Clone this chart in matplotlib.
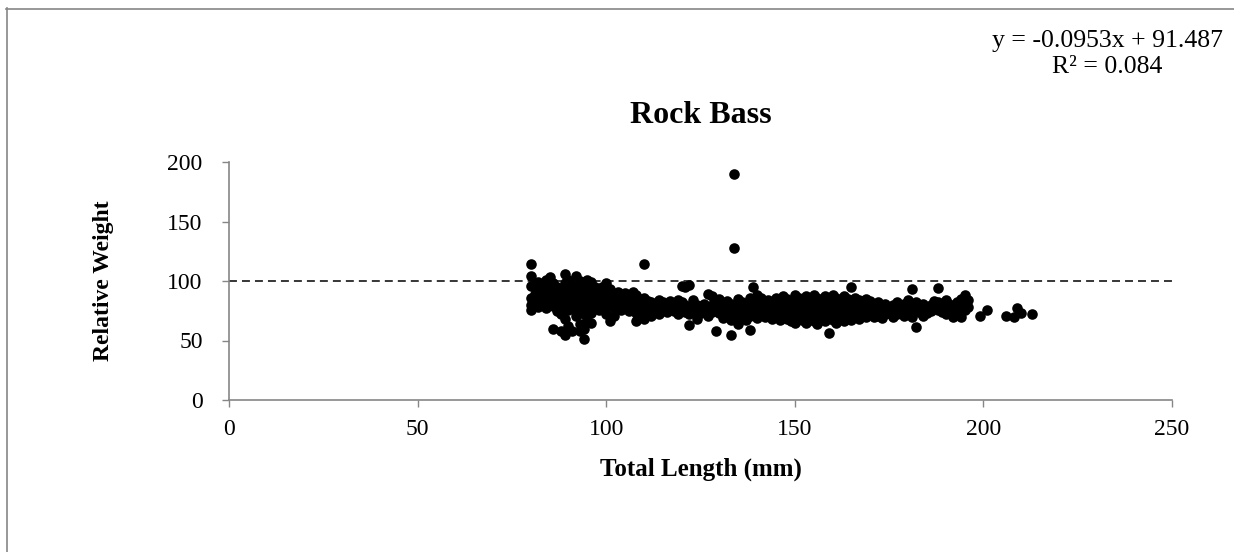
import matplotlib
matplotlib.use("Agg")
import matplotlib.pyplot as plt
from matplotlib.lines import Line2D

plt.rcParams['font.family'] = ['Liberation Serif', 'DejaVu Serif']

# ---- data ----
length_groups = [80, 81, 82, 83, 84, 85, 86, 87, 88, 89, 90, 91, 92, 93, 94, 95, 96, 97, 98, 99,
                 100, 101, 102, 103, 104, 105, 106, 107, 108, 109, 110, 111, 112, 113, 114, 115,
                 116, 117, 118, 119, 120, 121, 122, 123, 124, 125, 126, 127, 128, 129, 130, 131,
                 132, 133, 134, 135, 136, 137, 138, 139, 140, 141, 142, 143, 144, 145, 146, 147,
                 148, 149, 150, 151, 152, 153, 154, 155, 156, 157, 158, 159, 160, 161, 162, 163,
                 164, 165, 166, 167, 168, 169, 170, 171, 172, 173, 174, 175, 176, 177, 178, 179,
                 180, 181, 182, 183, 184, 185, 186, 187, 188, 189, 190, 191, 192, 193, 194, 195,
                 196, 199, 201, 206, 208, 209, 210, 213]
weight_groups = [
    [114, 104, 96, 86, 80, 76], [97, 89, 83], [99, 91, 85, 78], [93, 87, 80],
    [101, 95, 88, 82, 77], [103, 96, 90, 84], [98, 92, 86, 79, 60], [95, 89, 82, 75],
    [93, 86, 79, 72, 58], [106, 98, 91, 84, 68, 55], [101, 94, 87, 81, 76, 62],
    [97, 89, 83, 77, 58], [104, 95, 86, 79, 71], [100, 91, 84, 75, 64, 58],
    [97, 88, 81, 72, 60, 51], [101, 93, 84, 77, 67], [99, 89, 81, 73, 65], [95, 87, 79],
    [91, 84, 76], [95, 88, 81],
    [98, 91, 85, 78, 72], [93, 87, 81, 66], [89, 83, 77, 71], [91, 85, 79], [87, 82, 76],
    [90, 84, 78], [86, 81, 75], [91, 83, 77], [88, 81, 73, 66], [85, 79, 71],
    [114, 86, 80, 74, 68], [83, 77], [82, 76, 71], [80, 74], [84, 78, 72], [82, 76],
    [79, 74], [83, 77], [81, 75], [84, 78, 72], [96, 82, 76], [95, 80, 74], [97, 78, 72, 63],
    [84, 76], [80, 74, 68], [78, 73], [81, 75], [89, 77, 71], [87, 80, 74], [82, 76, 58],
    [85, 79, 73], [81, 75, 69],
    [83, 77, 71], [81, 74, 67, 55], [190, 128, 80, 73], [85, 77, 71, 64], [82, 75],
    [80, 73, 67], [86, 78, 71, 59], [95, 81, 75], [88, 82, 76, 69], [86, 79, 73],
    [81, 75, 70], [84, 77, 71], [82, 75, 68], [86, 80, 74, 70], [84, 78, 72, 67],
    [87, 81, 76, 71],
    [85, 79, 73, 68], [83, 77, 72, 66], [88, 82, 76, 71, 65], [86, 80, 74, 69],
    [84, 78, 73, 67], [87, 81, 75, 70, 65], [85, 79, 74, 68], [88, 82, 77, 72, 66],
    [86, 80, 75, 69, 64], [84, 79, 73, 68], [87, 81, 76, 71, 66], [85, 80, 74, 69, 56],
    [88, 82, 77, 72, 67], [86, 80, 75, 70, 65], [84, 79, 73, 68], [87, 81, 76, 70, 66],
    [85, 80, 74, 69], [95, 83, 77, 72, 67], [86, 80, 75, 70], [84, 78, 73, 68], [82, 77, 72],
    [85, 79, 74, 70], [83, 77, 72], [80, 75, 70], [82, 76, 71], [79, 74, 69], [81, 76, 72],
    [78, 73], [80, 75, 70], [82, 77, 72], [79, 74], [81, 76, 71],
    [84, 78, 73], [93, 80, 75, 70], [82, 77, 61], [79, 74], [81, 76, 71], [78, 73], [80, 75],
    [83, 77], [94, 82, 76], [79, 74], [84, 78, 72], [81, 76], [79, 70], [82, 76],
    [85, 80, 70], [88, 82, 76],
    [84, 78], [71], [76], [71], [70], [77], [73], [72]]

x_ticks = [0, 50, 100, 150, 200, 250]
y_ticks = [0, 50, 100, 150, 200]
reference_weight = 100
title = "Rock Bass"
x_label = "Total Length (mm)"
y_label = "Relative Weight"
equation = "y = -0.0953x + 91.487\nR² = 0.084"

lengths = []
weights = []
for xv, ys in zip(length_groups, weight_groups):
    for yv in ys:
        lengths.append(xv)
        weights.append(yv)

W, H = 1234, 552
fig = plt.figure(figsize=(W / 100, H / 100), dpi=100)
ax = fig.add_axes([229 / W, 1 - 400 / H, (1172 - 229) / W, (400 - 162) / H])

ax.scatter(lengths, weights, s=58, color='black', linewidths=0, zorder=3)
ax.axhline(reference_weight, color='black', lw=1.1, dashes=(5.2, 3.3), zorder=2)

ax.set_xlim(0, 250)
ax.set_ylim(0, 200)
ax.set_xticks(x_ticks)
ax.set_yticks(y_ticks)
ax.tick_params(axis='both', labelsize=17, colors='#868686', labelcolor='black',
               direction='out', length=5, width=1)
ax.tick_params(axis='x', pad=9)
ax.tick_params(axis='y', pad=14)
for s in ['top', 'right']:
    ax.spines[s].set_visible(False)
for s in ['left', 'bottom']:
    ax.spines[s].set_color('#868686')
    ax.spines[s].set_linewidth(1.2)

ax.set_title(title, fontsize=23, fontweight='bold', pad=28)
ax.set_xlabel(x_label, fontsize=18, fontweight='bold', labelpad=12)
ax.set_ylabel(y_label, fontsize=17, fontweight='bold', labelpad=38)

fig.text(1107 / W, 1 - 54 / H, equation, ha='center', va='center', fontsize=18.5,
         linespacing=1.2)

# figure border (left and top visible)
fig.add_artist(Line2D([6.5 / W, 6.5 / W], [0, 1 - 8 / H], transform=fig.transFigure,
                      color='#868686', lw=1.2))
fig.add_artist(Line2D([6 / W, 1], [1 - 8.5 / H, 1 - 8.5 / H], transform=fig.transFigure,
                      color='#868686', lw=1.2))

fig.savefig("out.png", dpi=100)
